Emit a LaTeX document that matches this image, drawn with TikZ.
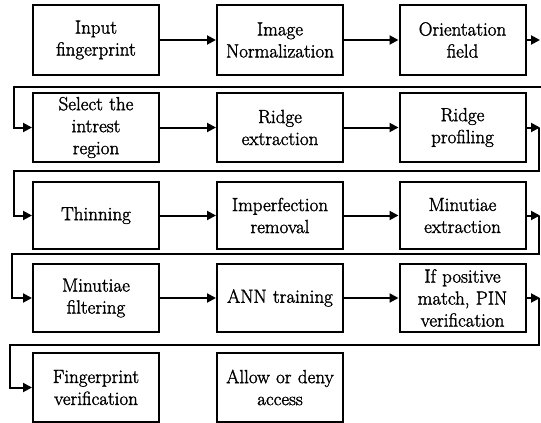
\documentclass[tikz,border=0pt]{standalone}
\usepackage{fontspec}
\newfontfamily\boxfont[FakeBold=1.6]{Latin Modern Roman}
\usetikzlibrary{arrows.meta}
\begin{document}
\begin{tikzpicture}[x=1pt,y=-1pt,
  stepbox/.style={draw, line width=2pt, minimum width=126pt, text width=124pt,
    inner sep=0pt, align=center, font=\boxfont\fontsize{19}{22}\selectfont},
  conn/.style={line width=2pt, -{Triangle[length=9pt,width=9pt]}}]
\useasboundingbox (0,0) rectangle (541,423);
% row 1
\node[stepbox, minimum height=70pt] (inp) at (96,40) {Input\\fingerprint};
\node[stepbox, minimum height=70pt] (img) at (280,40) {Image\\Normalization};
\node[stepbox, minimum height=70pt] (ori) at (462.5,40) {Orientation\\field};
% row 2
\node[stepbox, minimum height=69pt] (sel) at (96,127.5) {Select the\\intrest\\region};
\node[stepbox, minimum height=69pt] (rex) at (280,127.5) {Ridge\\extraction};
\node[stepbox, minimum height=69pt] (rpr) at (462.5,127.5) {Ridge\\profiling};
% row 3
\node[stepbox, minimum height=67pt] (thi) at (96,215.5) {Thinning};
\node[stepbox, minimum height=67pt] (imp) at (280,215.5) {Imperfection\\removal};
\node[stepbox, minimum height=67pt] (mex) at (462.5,215.5) {Minutiae\\extraction};
% row 4
\node[stepbox, minimum height=68pt] (mfi) at (96,298) {Minutiae\\filtering};
\node[stepbox, minimum height=68pt] (ann) at (280,298) {ANN training};
\node[stepbox, minimum height=68pt] (pos) at (462.5,298) {If positive\\match, PIN\\verification};
% row 5
\node[stepbox, minimum height=69pt] (fve) at (96,387.5) {Fingerprint\\verification};
\node[stepbox, minimum height=69pt] (acc) at (280,387.5) {Allow or deny\\access};
% coordinates for wraps
\coordinate (r1) at (540,40);
\coordinate (r2) at (540,127.5);
\coordinate (r3) at (540,215.5);
\coordinate (r4) at (540,298);
\coordinate (v1) at (543,40);
\coordinate (v2) at (539,127.5);
\coordinate (v3) at (539,215.5);
\coordinate (v4) at (539,298);
\coordinate (l1) at (14,87);
\coordinate (l2) at (14,171);
\coordinate (l3) at (12,254);
\coordinate (l4) at (10,345);
% connectors
\draw[conn] (inp) -- (img);
\draw[conn] (img) -- (ori);
\draw[conn] (ori) -- (r1);
\draw[conn] (v1) |- (l1) |- (sel.west);
\draw[conn] (sel) -- (rex);
\draw[conn] (rex) -- (rpr);
\draw[conn] (rpr) -- (r2);
\draw[conn] (v2) |- (l2) |- (thi.west);
\draw[conn] (thi) -- (imp);
\draw[conn] (imp) -- (mex);
\draw[conn] (mex) -- (r3);
\draw[conn] (v3) |- (l3) |- (mfi.west);
\draw[conn] (mfi) -- (ann);
\draw[conn] (ann) -- (pos);
\draw[conn] (pos) -- (r4);
\draw[conn] (v4) |- (l4) |- (fve.west);
\end{tikzpicture}
\end{document}
